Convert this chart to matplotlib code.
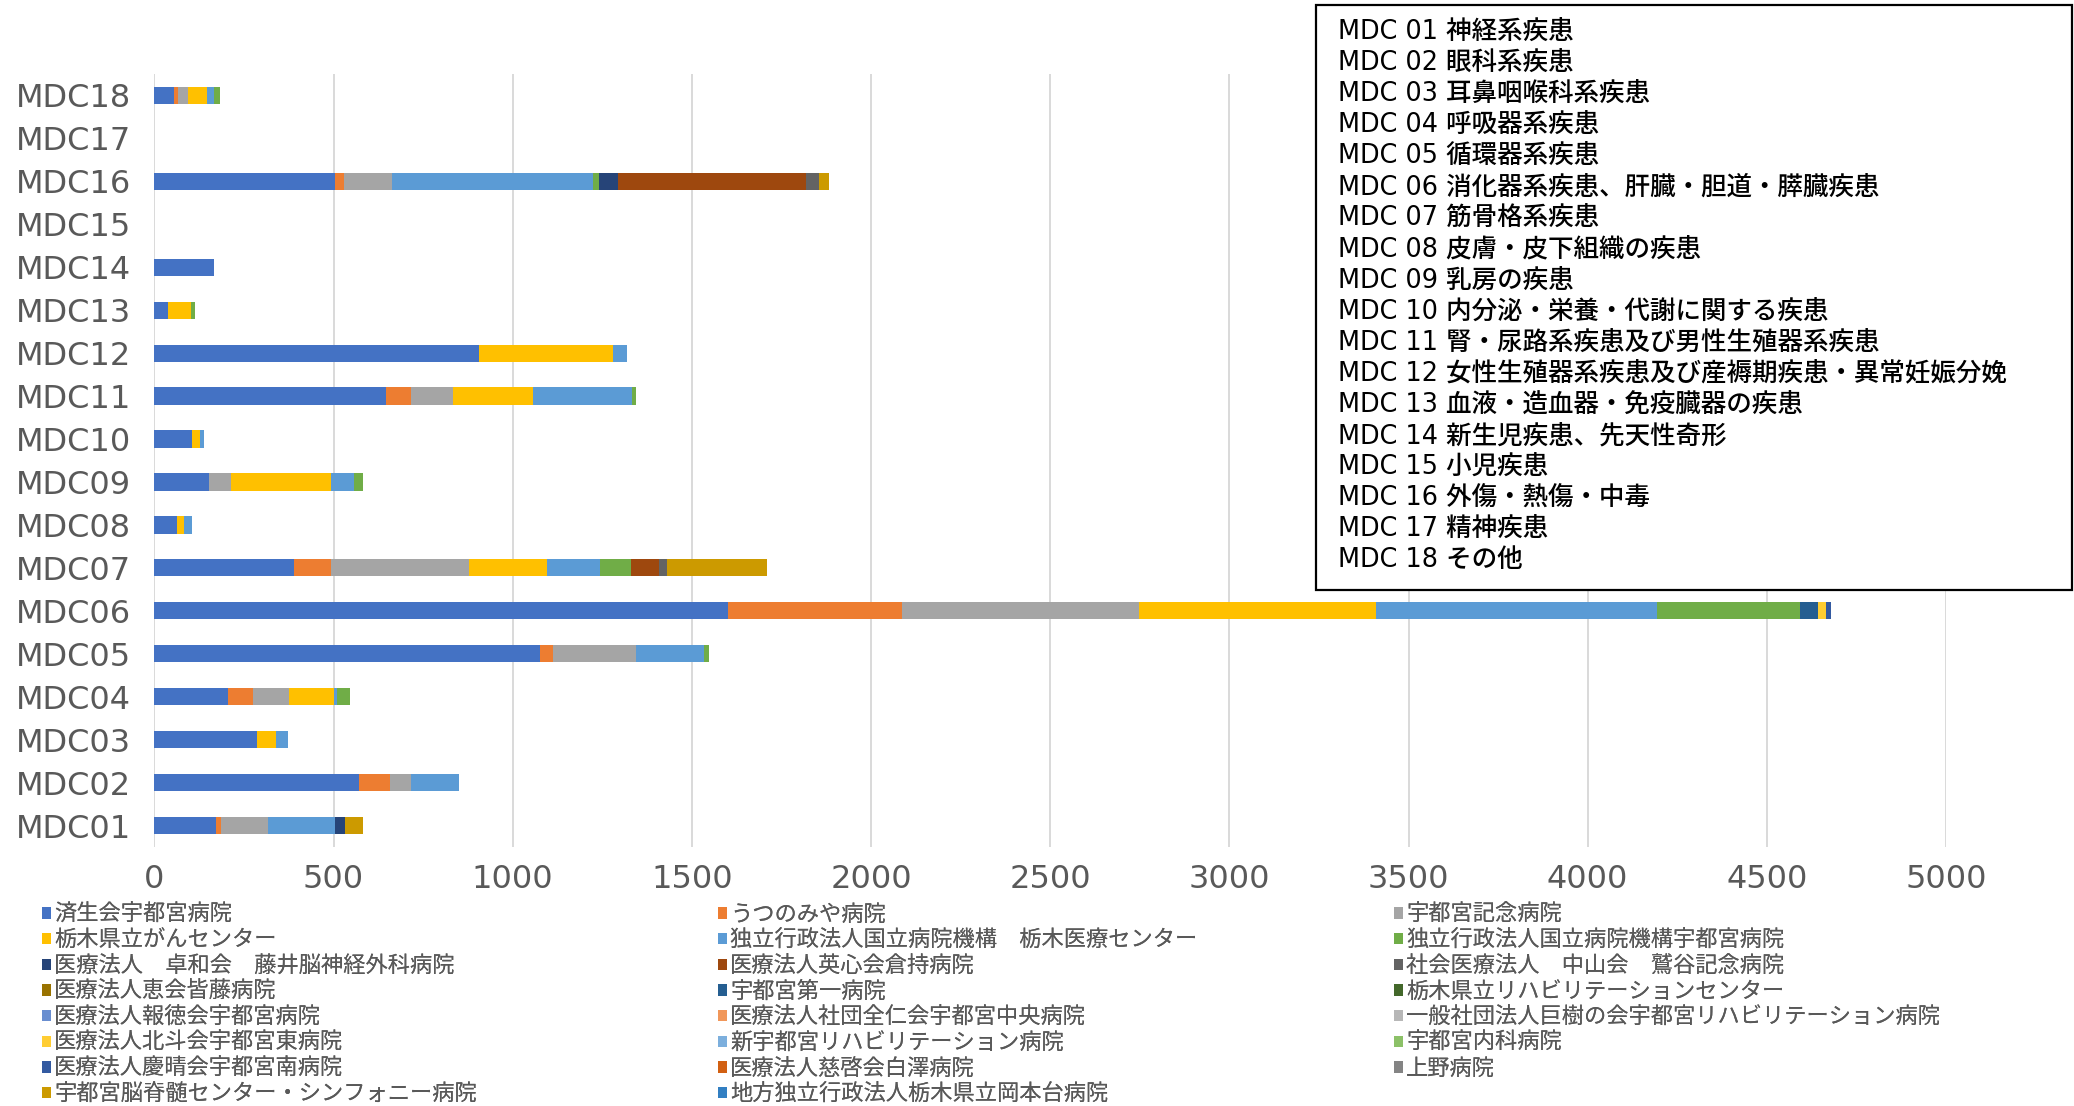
import matplotlib
matplotlib.use('Agg')
import matplotlib.pyplot as plt
from matplotlib.patches import Rectangle

plt.rcParams['font.family'] = ['Noto Sans CJK JP', 'DejaVu Sans']

# categories, bottom to top
mdc = ['MDC01', 'MDC02', 'MDC03', 'MDC04', 'MDC05', 'MDC06', 'MDC07', 'MDC08', 'MDC09',
       'MDC10', 'MDC11', 'MDC12', 'MDC13', 'MDC14', 'MDC15', 'MDC16', 'MDC17', 'MDC18']

mdc_names = ['MDC 01 神経系疾患', 'MDC 02 眼科系疾患', 'MDC 03 耳鼻咽喉科系疾患',
             'MDC 04 呼吸器系疾患', 'MDC 05 循環器系疾患',
             'MDC 06 消化器系疾患、肝臓・胆道・膵臓疾患', 'MDC 07 筋骨格系疾患',
             'MDC 08 皮膚・皮下組織の疾患', 'MDC 09 乳房の疾患',
             'MDC 10 内分泌・栄養・代謝に関する疾患',
             'MDC 11 腎・尿路系疾患及び男性生殖器系疾患',
             'MDC 12 女性生殖器系疾患及び産褥期疾患・異常妊娠分娩',
             'MDC 13 血液・造血器・免疫臓器の疾患', 'MDC 14 新生児疾患、先天性奇形',
             'MDC 15 小児疾患', 'MDC 16 外傷・熱傷・中毒', 'MDC 17 精神疾患', 'MDC 18 その他']

hospitals = ['済生会宇都宮病院', 'うつのみや病院', '宇都宮記念病院', '栃木県立がんセンター',
             '独立行政法人国立病院機構　栃木医療センター', '独立行政法人国立病院機構宇都宮病院',
             '医療法人　卓和会　藤井脳神経外科病院', '医療法人英心会倉持病院',
             '社会医療法人　中山会　鷲谷記念病院', '医療法人恵会皆藤病院', '宇都宮第一病院',
             '栃木県立リハビリテーションセンター', '医療法人報徳会宇都宮病院',
             '医療法人社団全仁会宇都宮中央病院', '一般社団法人巨樹の会宇都宮リハビリテーション病院',
             '医療法人北斗会宇都宮東病院', '新宇都宮リハビリテーション病院', '宇都宮内科病院',
             '医療法人慶晴会宇都宮南病院', '医療法人慈啓会白澤病院', '上野病院',
             '宇都宮脳脊髄センター・シンフォニー病院', '地方独立行政法人栃木県立岡本台病院']

colors = ['#4472C4', '#ED7D31', '#A5A5A5', '#FFC000', '#5B9BD5', '#70AD47',
          '#264478', '#9E480E', '#636363', '#997300', '#255E91', '#43682B',
          '#698ED0', '#F1975A', '#B7B7B7', '#FFCD33', '#7CAFDD', '#8CC168',
          '#335AA1', '#D26012', '#848484', '#CC9A00', '#327FC2']

# cases per hospital, MDC01 .. MDC18
saiseikai   = [171, 572, 285, 205, 1076, 1600, 389, 62, 151, 106, 647, 905, 38, 166, 0, 504, 0, 54]
utsunomiya  = [16, 86, 0, 70, 37, 487, 104, 0, 0, 0, 70, 0, 0, 0, 0, 26, 0, 11]
kinen       = [131, 58, 0, 102, 231, 661, 385, 0, 64, 0, 115, 0, 0, 0, 0, 134, 0, 29]
gan_center  = [0, 0, 53, 123, 0, 661, 218, 21, 278, 21, 224, 376, 64, 0, 0, 0, 0, 53]
tochigi_mc  = [186, 135, 35, 9, 191, 785, 148, 21, 64, 11, 278, 37, 0, 0, 0, 559, 0, 18]
nho_utsu    = [0, 0, 0, 36, 12, 398, 86, 0, 26, 0, 11, 0, 10, 0, 0, 17, 0, 19]
fujii       = [27, 0, 0, 0, 0, 0, 0, 0, 0, 0, 0, 0, 0, 0, 0, 55, 0, 0]
kuramochi   = [0, 0, 0, 0, 0, 0, 78, 0, 0, 0, 0, 0, 0, 0, 0, 524, 0, 0]
washiya     = [0, 0, 0, 0, 0, 0, 23, 0, 0, 0, 0, 0, 0, 0, 0, 37, 0, 0]
kaito       = [0] * 18
daiichi     = [0, 0, 0, 0, 0, 50, 0, 0, 0, 0, 0, 0, 0, 0, 0, 0, 0, 0]
rehab_pref  = [0] * 18
hotoku      = [0] * 18
zenjin      = [0] * 18
kyoju       = [0] * 18
hokuto      = [0, 0, 0, 0, 0, 23, 0, 0, 0, 0, 0, 0, 0, 0, 0, 0, 0, 0]
shin_rehab  = [0] * 18
naika       = [0] * 18
keisei      = [0, 0, 0, 0, 0, 14, 0, 0, 0, 0, 0, 0, 0, 0, 0, 0, 0, 0]
shirasawa   = [0] * 18
ueno        = [0] * 18
symphony    = [50, 0, 0, 0, 0, 0, 278, 0, 0, 0, 0, 0, 0, 0, 0, 26, 0, 0]
okamotodai  = [0] * 18

series = [saiseikai, utsunomiya, kinen, gan_center, tochigi_mc, nho_utsu, fujii,
          kuramochi, washiya, kaito, daiichi, rehab_pref, hotoku, zenjin, kyoju,
          hokuto, shin_rehab, naika, keisei, shirasawa, ueno, symphony, okamotodai]

W, H = 2074, 1106
fig = plt.figure(figsize=(W / 100, H / 100), dpi=100)
ax = fig.add_axes([154.4 / W, 1 - 847 / H, (1946 - 154.4) / W, (847 - 74) / H])

ypos = list(range(len(mdc)))
left = [0] * len(mdc)
bars = []
for vals, name, c in zip(series, hospitals, colors):
    b = ax.barh(ypos, vals, left=left, height=0.4, color=c, label=name)
    bars.append(b)
    left = [l + v for l, v in zip(left, vals)]

ax.set_xlim(0, 5000)
ax.set_ylim(-0.5, len(mdc) - 0.5)
ax.set_xticks(range(0, 5001, 500))
ax.set_yticks(ypos)
ax.set_yticklabels(mdc)
ax.xaxis.grid(True, color='#D9D9D9', lw=1.4)
ax.set_axisbelow(True)
for s in ax.spines.values():
    s.set_visible(False)
ax.tick_params(axis='y', length=0, pad=17, labelsize=23, labelcolor='#595959')
ax.tick_params(axis='x', length=0, pad=12, labelsize=23, labelcolor='#595959')
for lab in ax.get_xticklabels() + ax.get_yticklabels():
    lab.set_family('DejaVu Sans')

# bottom legend: three columns filled row by row
col_x = [42, 718, 1394]
for k in range(3):
    idx = list(range(k, len(hospitals), 3))
    leg = fig.legend([bars[i] for i in idx], [hospitals[i] for i in idx],
                     loc='upper left', bbox_to_anchor=(col_x[k] / W, 1 - 903 / H),
                     frameon=False, fontsize=16, borderpad=0, borderaxespad=0,
                     handlelength=0.4, handleheight=0.4, handletextpad=0.15,
                     labelspacing=0.12, labelcolor='#595959')
    fig.add_artist(leg)

# MDC name box
fig.add_artist(Rectangle((1316 / W, 1 - 590 / H), (2072 - 1316) / W, 585 / H,
                         transform=fig.transFigure, facecolor='white',
                         edgecolor='black', lw=1.6, zorder=5))
for i, txt in enumerate(mdc_names):
    fig.text(1338 / W, 1 - (31.7 + 31.1 * i) / H, txt, fontsize=18.4, color='black',
             weight='medium', va='center', ha='left',
             family=['DejaVu Sans', 'Noto Sans CJK JP'], zorder=6)

fig.savefig('out.png', dpi=100)
